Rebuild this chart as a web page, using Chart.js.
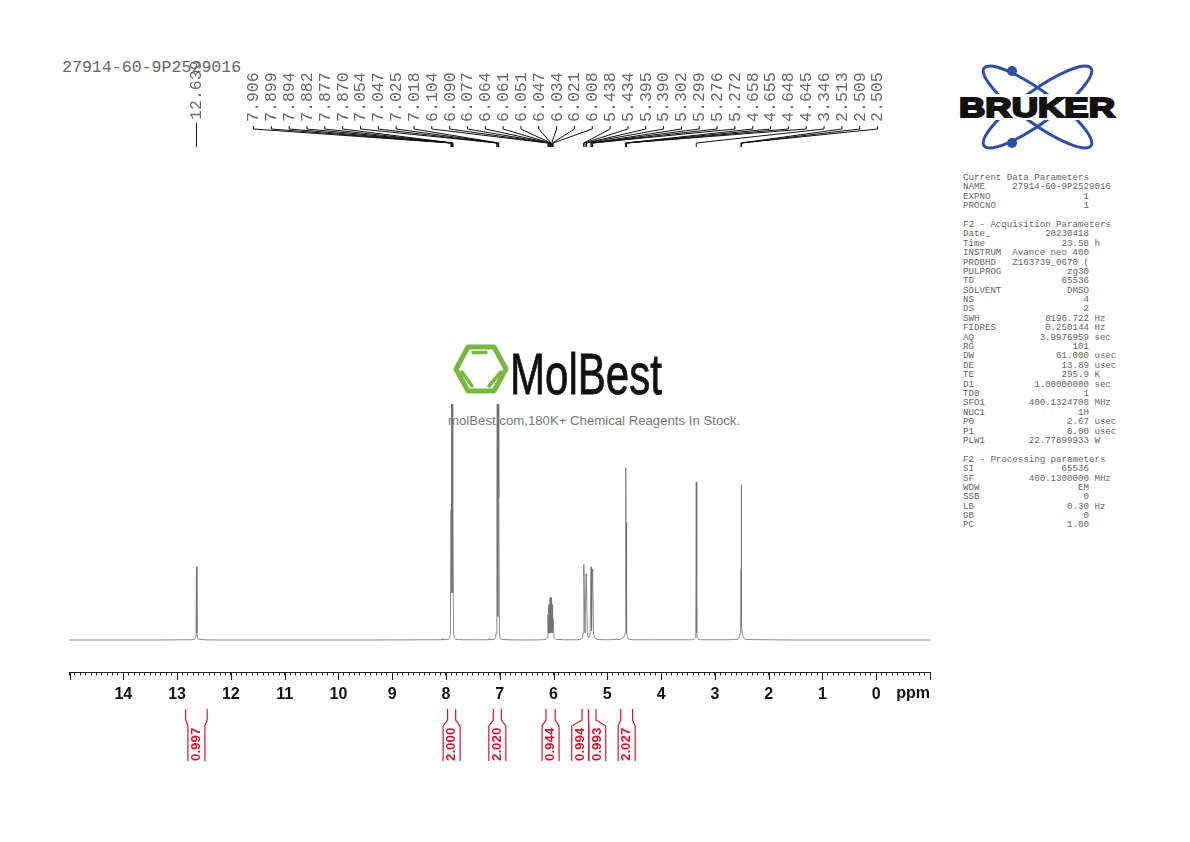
<!DOCTYPE html>
<html>
<head>
<meta charset="utf-8">
<title>27914-60-9P2529016</title>
<script src="https://cdn.jsdelivr.net/npm/chart.js@4"></script>
<style>
  html, body { margin: 0; padding: 0; background: #fff; }
  #page { position: relative; width: 1190px; height: 842px; overflow: hidden; }
  #spectrum { position: absolute; left: 0; top: 0; z-index: 2; }
  #sampleName {
    position: absolute; left: 62px; top: 59px; color: #666;
    font: 16.6px/18px "Liberation Mono", monospace; white-space: pre;
  }
  #params {
    position: absolute; left: 963px; top: 173px; margin: 0; color: #666;
    font: 9.13px/9.39px "Liberation Mono", monospace;
  }
  #slogan {
    position: absolute; left: 448px; top: 413px; color: #777;
    font: 13.2px/16px "Liberation Sans", sans-serif; white-space: pre;
  }
  svg { position: absolute; left: 0; top: 0; }
</style>
</head>
<body>
<div id="page">
  <svg width="1190" height="842" viewBox="0 0 1190 842">
    <!-- MolBest logo -->
    <g fill="none" stroke="#7ab740" stroke-linejoin="round" stroke-linecap="round">
      <path d="M468 347 L494 347 L506 369 L494 391 L468 391 L456 369 Z" stroke-width="5"/>
      <path d="M473 352.5 L486 352.5 M462 372 L472 386 M489 386 L501 372" stroke-width="3.5"/>
    </g>
    <text x="510" y="394" font-family="Liberation Sans Narrow, Liberation Sans" font-size="58" fill="#111" stroke="#111" stroke-width="0.8" textLength="152" lengthAdjust="spacingAndGlyphs">MolBest</text>
    <!-- Bruker logo -->
    <g fill="none" stroke="#2d4fa5" stroke-width="3">
      <ellipse cx="1037.5" cy="107" rx="66" ry="16" transform="rotate(36 1037.5 107)"/>
      <ellipse cx="1037.5" cy="107" rx="66" ry="16" transform="rotate(-36 1037.5 107)"/>
    </g>
    <circle cx="1012" cy="71" r="5" fill="#2d4fa5"/>
    <circle cx="1012" cy="143" r="5" fill="#2d4fa5"/>
    <rect x="957" y="94" width="160" height="26" fill="#fff"/>
    <text x="959" y="117" font-family="Liberation Sans" font-weight="700" font-size="28" fill="#111" stroke="#111" stroke-width="2" textLength="156" lengthAdjust="spacingAndGlyphs">BRUKER</text>
  </svg>
  <div id="sampleName"></div>
  <pre id="params"></pre>
  <div id="slogan"></div>
  <canvas id="spectrum" width="1190" height="842"></canvas>
</div>

<script>
const sampleName = '27914-60-9P2529016';
const sloganText = 'molBest.com,180K+ Chemical Reagents In Stock.';

const paramLines = [
  'Current Data Parameters',
  'NAME     27914-60-9P2529016',
  'EXPNO                 1',
  'PROCNO                1',
  '',
  'F2 - Acquisition Parameters',
  'Date_          20230418',
  'Time              23.58 h',
  'INSTRUM  Avance neo 400',
  'PROBHD   Z163739_0670 (',
  'PULPROG            zg30',
  'TD                65536',
  'SOLVENT            DMSO',
  'NS                    4',
  'DS                    2',
  'SWH            8196.722 Hz',
  'FIDRES         0.250144 Hz',
  'AQ            3.9976959 sec',
  'RG                  101',
  'DW               61.000 usec',
  'DE                13.89 usec',
  'TE                295.9 K',
  'D1           1.00000000 sec',
  'TD0                   1',
  'SFO1        400.1324708 MHz',
  'NUC1                 1H',
  'P0                 2.67 usec',
  'P1                 8.00 usec',
  'PLW1        22.77899933 W',
  '',
  'F2 - Processing parameters',
  'SI                65536',
  'SF          400.1300000 MHz',
  'WDW                  EM',
  'SSB                   0',
  'LB                 0.30 Hz',
  'GB                    0',
  'PC                 1.00',
];

// spectrum trace (tallest line = 100)
const spectrumPpm = [
  15.0, 13.4, 12.9, 12.75, 12.68, 12.66, 12.648, 12.639, 12.630, 12.618, 12.6, 12.5, 12.2,
  9.5, 8.3, 8.08, 8.07, 8.06, 8.0, 7.95, 7.93, 7.918, 7.906, 7.902, 7.899, 7.894, 7.888,
  7.882, 7.877, 7.873, 7.870, 7.858, 7.845, 7.82, 7.72, 7.71, 7.70, 7.5, 7.22, 7.21, 7.2,
  7.10, 7.08, 7.066, 7.054, 7.047, 7.036, 7.025, 7.018, 7.006, 6.992, 6.97, 6.88,
  6.87, 6.86, 6.5, 6.2, 6.14, 6.12, 6.104, 6.097, 6.090, 6.084, 6.077, 6.07, 6.064, 6.061, 6.056,
  6.051, 6.047, 6.04, 6.034, 6.027, 6.021, 6.014, 6.008, 5.99, 5.96, 5.8, 5.55, 5.49, 5.46, 5.45,
  5.438, 5.434, 5.415, 5.395, 5.390, 5.37, 5.345, 5.32, 5.302, 5.299, 5.287, 5.276, 5.272, 5.255,
  5.23, 5.18, 5.0, 4.76, 4.70, 4.68, 4.668, 4.658, 4.655, 4.651, 4.648, 4.645, 4.634, 4.62, 4.60,
  4.54, 4.2, 3.42, 3.385, 3.365, 3.355, 3.346, 3.337, 3.327, 3.307, 3.27, 2.8, 2.57, 2.545, 2.528, 2.52,
  2.513, 2.511, 2.509, 2.507, 2.505, 2.497, 2.49, 2.473, 2.43, 1.5, 0.5, -1.0,
];
const spectrumIntensity = [
  0, 0, 0.1, 0.1, 0.3, 1, 3, 31, 3, 1, 0.3, 0.1, 0,
  0, 0.1, 0.1, 0.5, 0.1, 0.2, 0.3, 1, 3, 55, 20, 60, 100, 25,
  100, 75, 20, 45, 3, 1, 0.3, 0.1, 0.5, 0.1, 0.1, 0.1, 0.5, 0.1,
  0.3, 1, 3, 60, 100, 10, 100, 60, 3, 1, 0.3, 0.1,
  0.5, 0.1, 0, 0.1, 0.3, 1, 11, 3, 15, 3, 15, 3, 18, 15, 3,
  18, 18, 3, 17, 3, 15, 3, 9, 1, 0.3, 0.1, 0.1, 0.3, 1, 3,
  32, 30, 3, 28, 27, 2, 1, 2.5, 31, 30, 4, 30, 29, 2.5,
  0.8, 0.2, 0.1, 0.3, 1, 2, 3, 73, 70, 25, 50, 45, 3, 1, 0.3,
  0.1, 0.1, 0.1, 0.3, 1, 3, 67, 3, 1, 0.3, 0.1, 0.1, 0.3, 1, 3, 6,
  30, 40, 65.7, 38, 30, 6, 3, 1, 0.2, 0, 0, 0,
];

const xTickStep = 0.1;
const xLabelMin = 0;
const xLabelMax = 14;
const xUnit = 'ppm';

const singlePeak = ['12.639'];
const peakLabels = [
  '7.906', '7.899', '7.894', '7.882', '7.877', '7.870', '7.054', '7.047', '7.025', '7.018',
  '6.104', '6.090', '6.077', '6.064', '6.061', '6.051', '6.047', '6.034', '6.021', '6.008',
  '5.438', '5.434', '5.395', '5.390', '5.302', '5.299', '5.276', '5.272',
  '4.658', '4.655', '4.648', '4.645', '3.346', '2.513', '2.509', '2.505',
];

const integralValues = ['0.997', '2.000', '2.020', '0.944', '0.994', '0.993', '2.027'];
const integralFrom = [12.84, 7.97, 7.12, 6.14, 5.47, 5.35, 4.75];
const integralTo = [12.44, 7.82, 6.97, 5.97, 5.35, 5.21, 4.53];

document.getElementById('sampleName').textContent = sampleName;
document.getElementById('slogan').textContent = sloganText;
document.getElementById('params').textContent = paramLines.join('\n');

// peak list above the spectrum, each label wired to its real position on the axis
function drawPeakLabels(ctx, xScale) {
  const firstX = 254;
  const stepX = 17.83;
  ctx.strokeStyle = '#111';
  ctx.lineWidth = 1;
  ctx.fillStyle = '#6a6a6a';
  ctx.font = '16.6px "Liberation Mono", monospace';
  ctx.textAlign = 'left';
  ctx.textBaseline = 'middle';

  const singleX = xScale.getPixelForValue(parseFloat(singlePeak[0]));
  ctx.beginPath();
  ctx.moveTo(singleX, 123);
  ctx.lineTo(singleX, 147);
  ctx.stroke();
  rotatedText(ctx, singlePeak[0], singleX + 0.5, 120);

  peakLabels.forEach((label, i) => {
    const labelX = firstX + i * stepX;
    const peakX = xScale.getPixelForValue(parseFloat(label));
    ctx.beginPath();
    ctx.moveTo(labelX - 0.5, 126);
    ctx.lineTo(labelX - 0.5, 129);
    ctx.lineTo(peakX, 143);
    ctx.lineTo(peakX, 147);
    ctx.stroke();
    rotatedText(ctx, label, labelX, 122);
  });
}

function rotatedText(ctx, text, x, y) {
  ctx.save();
  ctx.translate(x, y);
  ctx.rotate(-Math.PI / 2);
  ctx.fillText(text, 0, 0);
  ctx.restore();
}

// red integral brackets under the axis
function drawIntegrals(ctx, xScale) {
  const halfBox = 8.5;
  const boxes = integralValues.map((value, i) => {
    const left = xScale.getPixelForValue(integralFrom[i]);
    const right = xScale.getPixelForValue(integralTo[i]);
    return { value, left, right, center: (left + right) / 2 };
  });
  boxes.forEach((box, i) => {
    const prev = boxes[i - 1];
    if (prev && prev.center + halfBox > box.center - halfBox) {
      const mid = (prev.center + box.center) / 2;
      prev.center = mid - halfBox;
      box.center = mid + halfBox;
    }
  });

  ctx.strokeStyle = '#d8152f';
  ctx.fillStyle = '#d8152f';
  ctx.lineWidth = 1.2;
  ctx.font = 'bold 13.3px "Liberation Sans", sans-serif';
  ctx.textAlign = 'left';
  ctx.textBaseline = 'middle';
  boxes.forEach(box => {
    const boxLeft = box.center - halfBox;
    const boxRight = box.center + halfBox;
    ctx.beginPath();
    ctx.moveTo(box.left, 709);
    ctx.lineTo(box.left, 720);
    ctx.lineTo(boxLeft, 726);
    ctx.lineTo(boxLeft, 761);
    ctx.moveTo(box.right, 709);
    ctx.lineTo(box.right, 720);
    ctx.lineTo(boxRight, 726);
    ctx.lineTo(boxRight, 761);
    ctx.stroke();
    rotatedText(ctx, box.value, box.center, 761);
  });
}

const nmrAnnotations = {
  id: 'nmrAnnotations',
  afterDraw(chart) {
    const { ctx, scales, chartArea } = chart;
    const xScale = scales.x;
    ctx.save();

    // integer ticks are longer than the 0.1 ppm ones
    ctx.strokeStyle = '#222';
    ctx.lineWidth = 1;
    xScale.ticks.forEach(tick => {
      if (Math.abs(tick.value - Math.round(tick.value)) < 1e-6) {
        const x = Math.round(xScale.getPixelForValue(tick.value)) + 0.5;
        ctx.beginPath();
        ctx.moveTo(x, chartArea.bottom);
        ctx.lineTo(x, chartArea.bottom + 7.5);
        ctx.stroke();
      }
    });

    ctx.fillStyle = '#111';
    ctx.font = 'bold 16px "Liberation Sans", sans-serif';
    ctx.textAlign = 'right';
    ctx.textBaseline = 'middle';
    ctx.fillText(xUnit, chartArea.right, 693.5);

    drawPeakLabels(ctx, xScale);
    drawIntegrals(ctx, xScale);
    ctx.restore();
  },
};

new Chart(document.getElementById('spectrum'), {
  type: 'line',
  data: {
    datasets: [{
      data: spectrumPpm.map((ppm, i) => ({ x: ppm, y: spectrumIntensity[i] })),
      borderColor: '#6e6e6e',
      borderWidth: 0.8,
      pointRadius: 0,
      tension: 0,
      fill: false,
    }],
  },
  options: {
    responsive: false,
    animation: false,
    layout: { padding: { left: 69.5, right: 260, top: 0, bottom: 0 } },
    plugins: { legend: { display: false }, tooltip: { enabled: false } },
    scales: {
      x: {
        type: 'linear',
        reverse: true,
        min: -1,
        max: 15,
        afterFit: scale => { scale.height = 169.5; },
        border: { color: '#222', width: 1 },
        grid: { drawOnChartArea: false, tickLength: 3, tickColor: '#222', tickWidth: 1 },
        ticks: {
          stepSize: xTickStep,
          autoSkip: false,
          maxRotation: 0,
          padding: 9,
          color: '#111',
          font: { family: '"Liberation Sans", sans-serif', size: 16, weight: 'bold' },
          callback: value => {
            const whole = Math.round(value);
            const isLabelled = Math.abs(value - whole) < 1e-6 && whole >= xLabelMin && whole <= xLabelMax;
            return isLabelled ? String(whole) : '';
          },
        },
      },
      y: {
        display: false,
        min: -13.77,
        max: 271.2,
      },
    },
  },
  plugins: [nmrAnnotations],
});
</script>
</body>
</html>
